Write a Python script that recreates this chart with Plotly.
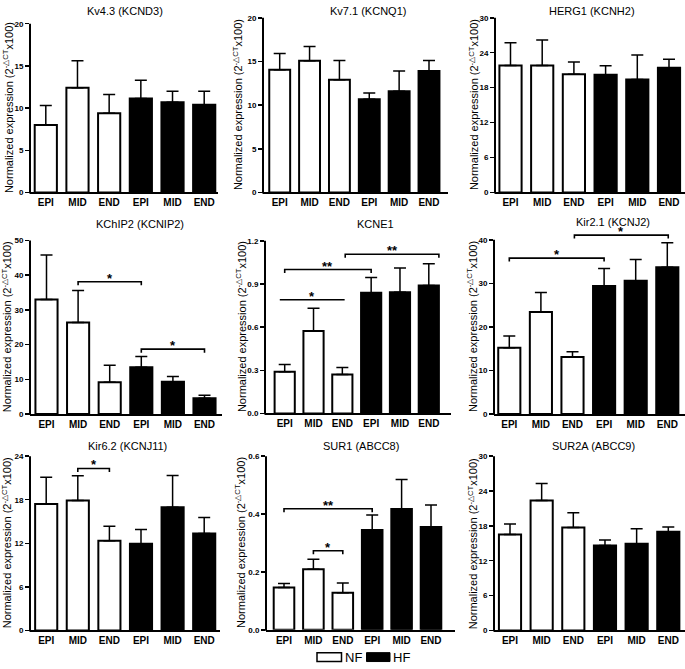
import plotly.graph_objects as go

W, H = 685, 669

# ---------------- data ----------------
groups = ["EPI", "MID", "END", "EPI", "MID", "END"]
titles = ["Kv4.3 (KCND3)", "Kv7.1 (KCNQ1)", "HERG1 (KCNH2)",
          "KChIP2 (KCNIP2)", "KCNE1", "Kir2.1 (KCNJ2)",
          "Kir6.2 (KCNJ11)", "SUR1 (ABCC8)", "SUR2A (ABCC9)"]

kv43_mean = [8.0, 12.4, 9.4, 11.15, 10.7, 10.4]
kv43_err = [2.3, 3.2, 2.2, 2.15, 1.3, 1.6]
kv71_mean = [14.05, 15.07, 12.9, 10.66, 11.6, 13.9]
kv71_err = [1.85, 1.63, 2.2, 0.74, 2.3, 1.2]
herg1_mean = [21.8, 21.8, 20.3, 20.2, 19.4, 21.4]
herg1_err = [3.9, 4.4, 2.1, 1.55, 4.2, 1.5]
kchip2_mean = [33.0, 26.4, 9.2, 13.5, 9.3, 4.6]
kchip2_err = [12.8, 9.2, 4.9, 3.1, 1.5, 0.8]
kcne1_mean = [0.29, 0.572, 0.27, 0.839, 0.843, 0.889]
kcne1_err = [0.05, 0.159, 0.05, 0.106, 0.167, 0.151]
kir21_mean = [15.2, 23.4, 13.1, 29.4, 30.6, 33.7]
kir21_err = [2.7, 4.5, 1.2, 4.0, 4.9, 5.6]
kir62_mean = [17.4, 17.9, 12.35, 11.95, 16.95, 13.35]
kir62_err = [3.7, 3.4, 2.0, 1.95, 4.4, 2.2]
sur1_mean = [0.146, 0.209, 0.128, 0.345, 0.417, 0.355]
sur1_err = [0.014, 0.035, 0.034, 0.052, 0.102, 0.076]
sur2a_mean = [16.5, 22.35, 17.7, 14.6, 14.9, 17.0]
sur2a_err = [1.8, 2.95, 2.55, 0.95, 2.6, 0.8]

means = [kv43_mean, kv71_mean, herg1_mean, kchip2_mean, kcne1_mean,
         kir21_mean, kir62_mean, sur1_mean, sur2a_mean]
errs = [kv43_err, kv71_err, herg1_err, kchip2_err, kcne1_err,
        kir21_err, kir62_err, sur1_err, sur2a_err]

y_max = [20, 20, 30, 50, 1.2, 40, 24, 0.6, 30]
y_dtick = [5, 5, 6, 10, 0.3, 10, 6, 0.2, 6]

# significance brackets: (panel, from, to, height, label, end ticks)
brackets = [
    (3, 1, 3, 38.1, "*", True),
    (3, 3, 5, 18.7, "*", True),
    (4, -0.17, 2.08, 0.79, "*", False),
    (4, 0, 3, 1.0, "**", True),
    (4, 2.1, 5.35, 1.106, "**", True),
    (5, 0, 3, 35.8, "*", True),
    (5, 2.06, 5.03, 41.06, "*", True),
    (6, 1, 2, 22.3, "*", True),
    (7, 0, 3, 0.418, "**", True),
    (7, 1, 2, 0.273, "*", True),
]

# ---------------- layout geometry (pixels) ----------------
# (y-axis x, first bar centre, last bar centre, axis right end, top tick y, zero y)
geo = [
    (30, 45.8, 204.2, 218, 20, 191),
    (263, 279.7, 429, 448, 14, 191),
    (495, 510.5, 669, 685, 14, 191),
    (30, 46.5, 204.5, 222, 239.7, 415.7),
    (265, 284.7, 428.8, 451, 240, 415),
    (494, 509.3, 667.3, 685, 239, 415.7),
    (30, 46.2, 204.2, 220, 458.3, 635),
    (266, 284, 431, 455, 458.3, 634.3),
    (494, 510, 668.3, 685, 458.3, 635),
]
ext = [1, 1, 1, 1, 1, 1.065, 1, 1, 1]
title_pos = [(125, 7), (368, 7), (592, 7), (140, 223), (375, 223), (613, 221),
             (128, 448), (361, 448), (593, 448)]
ytitle_x = [8, 238, 474, 7, 241, 472, 7, 240, 473]

FONT = "Liberation Sans, Arial, sans-serif"
fig = go.Figure()
layout = dict(
    width=W, height=H, margin=dict(l=0, r=0, t=0, b=0),
    paper_bgcolor="white", plot_bgcolor="rgba(0,0,0,0)",
    showlegend=False, font=dict(family=FONT, color="black", size=11),
)
shapes = []
annotations = []

for i in range(9):
    n = i + 1
    xa = "x" if n == 1 else f"x{n}"
    ya = "y" if n == 1 else f"y{n}"
    yx, c0, c1, xr, ytop, ybot = geo[i]
    s = (c1 - c0) / 5
    x_lo = -(c0 - yx) / s
    x_hi = 5 + (xr - c1) / s
    top_px = ybot - (ybot - ytop) * ext[i]
    rng_top = y_max[i] * ext[i]

    fig.add_trace(go.Bar(
        x=list(range(6)), y=means[i], width=0.7,
        marker=dict(color=["white"] * 3 + ["black"] * 3,
                    line=dict(color="black", width=2)),
        error_y=dict(type="data", symmetric=False, array=errs[i],
                     arrayminus=[0] * 6, color="black", thickness=1.5, width=6),
        xaxis=xa, yaxis=ya,
    ))

    nt = int(round(y_max[i] / y_dtick[i]))
    tickvals = [round(k * y_dtick[i], 6) for k in range(nt + 1)]
    ticktext = [("%g" % v) if y_dtick[i] >= 1 else ("%.1f" % v) for v in tickvals]

    layout["xaxis" if n == 1 else f"xaxis{n}"] = dict(
        domain=[yx / W, min(xr / W, 1)], range=[x_lo, x_hi], anchor=ya,
        tickvals=list(range(6)), ticktext=groups, ticks="",
        tickfont=dict(size=10, family=FONT, weight="bold"),
        showline=True, linecolor="black", linewidth=2,
        showgrid=False, zeroline=False, fixedrange=True,
    )
    layout["yaxis" if n == 1 else f"yaxis{n}"] = dict(
        domain=[1 - ybot / H, 1 - top_px / H], range=[0, rng_top], anchor=xa,
        tickvals=tickvals, ticktext=ticktext, ticks="outside", ticklen=4,
        tickwidth=1.5, tickcolor="black",
        tickfont=dict(size=8, family=FONT, weight="bold"),
        showline=False, showgrid=False, zeroline=False, fixedrange=True,
    )
    # y-axis line from 0 to the top tick
    shapes.append(dict(type="line", xref="paper", yref="paper",
                       x0=yx / W, x1=yx / W, y0=1 - (ybot + 1) / H, y1=1 - ytop / H,
                       line=dict(color="black", width=2)))
    # panel title
    tx, ty = title_pos[i]
    annotations.append(dict(text=titles[i], x=tx / W, y=1 - ty / H, xref="paper",
                            yref="paper", showarrow=False, xanchor="center",
                            yanchor="middle", font=dict(size=11, family=FONT)))
    # y-axis title
    annotations.append(dict(text="Normalized expression (2<sup>-△CT</sup>x100)",
                            x=ytitle_x[i] / W, y=1 - (ytop + ybot) / 2 / H,
                            xref="paper", yref="paper", showarrow=False,
                            textangle=-90, xanchor="center", yanchor="middle",
                            font=dict(size=11, family=FONT)))

for (p, a, b, h, lab, tk) in brackets:
    n = p + 1
    xa = "x" if n == 1 else f"x{n}"
    ya = "y" if n == 1 else f"y{n}"
    yx, c0, c1, xr, ytop, ybot = geo[p]
    drop = 3.5 * y_max[p] / (ybot - ytop)
    if tk:
        path = f"M {a},{h - drop} L {a},{h} L {b},{h} L {b},{h - drop}"
    else:
        path = f"M {a},{h} L {b},{h}"
    shapes.append(dict(type="path", path=path, xref=xa, yref=ya,
                       line=dict(color="black", width=1.6)))
    annotations.append(dict(text=lab, x=(a + b) / 2, y=h, xref=xa, yref=ya,
                            showarrow=False, xanchor="center", yanchor="bottom",
                            yshift=-6, font=dict(size=13, family=FONT, weight="bold")))

# legend
shapes.append(dict(type="rect", xref="paper", yref="paper",
                   x0=317 / W, x1=341.5 / W, y0=1 - 666.5 / H, y1=1 - 657.5 / H,
                   line=dict(color="black", width=1.5), fillcolor="white"))
shapes.append(dict(type="rect", xref="paper", yref="paper",
                   x0=366.5 / W, x1=390 / W, y0=1 - 666.5 / H, y1=1 - 657.5 / H,
                   line=dict(color="black", width=1), fillcolor="black"))
annotations.append(dict(text="NF", x=342.5 / W, y=1 - 662 / H, xref="paper", yref="paper",
                        showarrow=False, xanchor="left", yanchor="middle",
                        font=dict(size=13, family=FONT)))
annotations.append(dict(text="HF", x=391 / W, y=1 - 662 / H, xref="paper", yref="paper",
                        showarrow=False, xanchor="left", yanchor="middle",
                        font=dict(size=13, family=FONT)))

layout["shapes"] = shapes
layout["annotations"] = annotations
fig.update_layout(**layout)
fig.write_html(
    "out.html",
    config={"displayModeBar": False, "staticPlot": True},
    post_script="document.body.style.margin='0';document.body.style.overflow='hidden';",
)
